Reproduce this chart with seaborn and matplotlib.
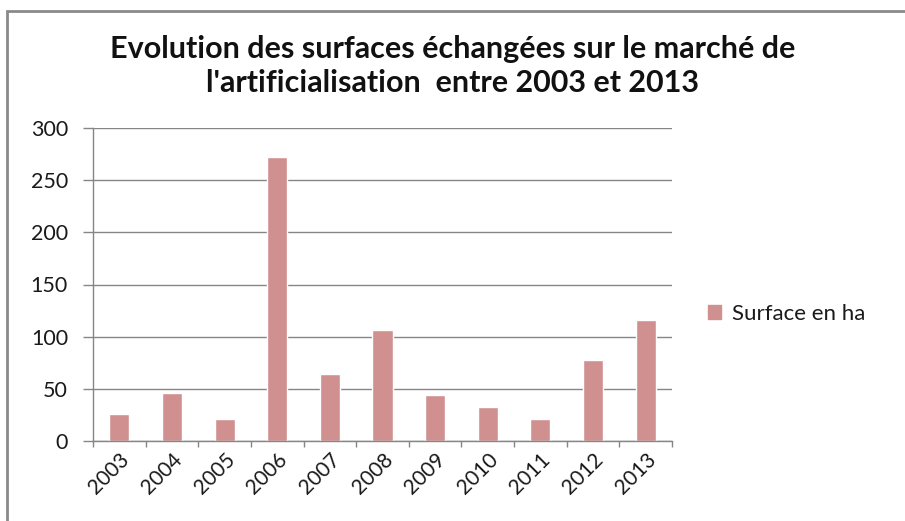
import matplotlib
matplotlib.use("Agg")
import matplotlib.pyplot as plt
import matplotlib.patches as mpatches
from matplotlib.ticker import FixedLocator, MultipleLocator
import numpy as np
import pandas as pd
import seaborn as sns

years = ["2003", "2004", "2005", "2006", "2007", "2008", "2009", "2010", "2011", "2012", "2013"]
surface_ha = [26, 46, 21, 272, 64, 106, 44, 33, 21, 78, 116]
series_name = "Surface en ha"
title = "Evolution des surfaces échangées sur le marché de\nl'artificialisation  entre 2003 et 2013"

sns.set_theme(style="white")
plt.rcParams["font.family"] = ["Lato", "DejaVu Sans"]

bar_color = "#D09090"
grid_color = "#868686"

df = pd.DataFrame({"annee": years, "surface": surface_ha})

fig = plt.figure(figsize=(9.05, 5.21), dpi=100)
ax = fig.add_axes([93 / 905, 1 - 441 / 521, (672 - 93) / 905, (441 - 128) / 521])

sns.barplot(data=df, x="annee", y="surface", color=bar_color, saturation=1,
            width=0.38, ax=ax, label=series_name)

ax.set_ylim(0, 300)
ax.set_xlim(-0.5, len(years) - 0.5)
ax.yaxis.set_major_locator(MultipleLocator(50))
ax.grid(axis="y", color=grid_color, linewidth=1.0)
ax.set_axisbelow(True)
ax.set_xlabel("")
ax.set_ylabel("")

for side in ["top", "right"]:
    ax.spines[side].set_visible(False)
for side in ["left", "bottom"]:
    ax.spines[side].set_color(grid_color)
    ax.spines[side].set_linewidth(1.0)

ax.tick_params(axis="y", which="major", direction="out", length=7, width=1,
               color=grid_color, labelsize=15.5, labelcolor="#1a1a1a", pad=11, left=True)
ax.tick_params(axis="x", which="major", length=0, labelsize=15, labelcolor="#1a1a1a", pad=6)
ax.xaxis.set_minor_locator(FixedLocator(np.arange(-0.5, len(years), 1.0)))
ax.tick_params(axis="x", which="minor", direction="out", length=4, width=1,
               color=grid_color, bottom=True)
plt.setp(ax.get_xticklabels(), rotation=45, ha="right", rotation_mode="anchor")

fig.text(0.5, 1 - 66 / 521, title, ha="center", va="center", fontsize=22,
         fontweight="bold", color="#111111", linespacing=1.3)

handle = mpatches.Patch(color=bar_color)
fig.legend([handle], [series_name], loc="center left",
           bbox_to_anchor=(688 / 905, 1 - 314 / 521), frameon=False,
           fontsize=16, handlelength=0.6, handleheight=0.6, handletextpad=0.5,
           labelcolor="#1a1a1a")
if ax.get_legend() is not None:
    ax.get_legend().remove()

# chart frame (top and left edges visible)
frame = mpatches.Rectangle((7 / 905, -0.2), 1.2, 1 - 11 / 521 + 0.2,
                           transform=fig.transFigure, fill=False,
                           edgecolor="#8a8a8a", linewidth=2, clip_on=False)
fig.patches.append(frame)

fig.savefig("out.png", dpi=100, facecolor="white")
